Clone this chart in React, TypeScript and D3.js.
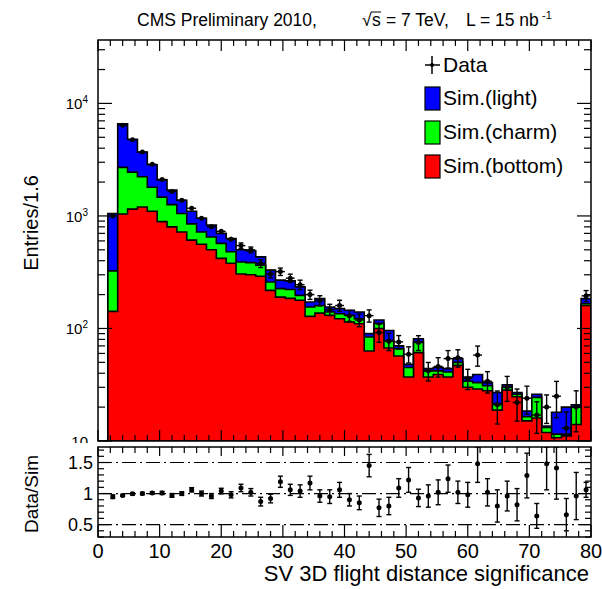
import * as d3 from 'd3';
import React, { useRef, useEffect } from 'react';

const WIDTH = 602;
const HEIGHT = 589;
const binWidth = 1.6;

// lower edges of the 50 bins (0 .. 78.4)
const binLow = d3.range(0, 50).map(i => i * binWidth);

// simulated contributions per bin (stacked: bottom, then charm, then light)
const simBottom = [0, 142, 1040, 1150, 1200, 1100, 890, 800, 720, 610, 560, 500, 420, 380, 305, 300, 291, 218, 190, 185,
  178, 128, 137, 131, 122, 114, 110, 63, 100, 67, 57, 37, 61, 37, 39, 37, 47, 30, 29, 28,
  18.8, 28.3, 24.7, 15.1, 16, 11.9, 10.7, 11.1, 14, 160];
const simCharm = [0, 183, 1660, 1300, 1030, 700, 580, 460, 330, 240, 160, 150, 150, 100, 85, 85, 74, 41, 36, 37,
  19, 27, 23, 9, 13, 17, 12, 21, 11, 11, 9, 8, 15, 5, 3, 4, 3, 4, 4, 3,
  2.7, 1.7, 1.3, 1.3, 8.4, 1.3, 0.8, 0.4, 6, 6];
const simLight = [0, 725, 3900, 2350, 1470, 1050, 620, 440, 330, 250, 235, 180, 130, 150, 110, 105, 68, 71, 43, 43,
  37, 17, 24, 15, 15, 14, 18, 6, 8, 18, 4, 3, 5, 2, 3, 3, 4, 3, 6, 2,
  5.5, 1.6, 1, 2.1, 1.6, 0.4, 6.5, 8.5, 1, 18];

// data entries per bin
const dataCounts = [0, 1000, 6400, 4750, 3700, 2880, 2110, 1650, 1380, 1170, 955, 800, 730, 620, 545, 500, 378, 305, 320, 280,
  245, 200, 177, 147, 160, 130, 119, 130, 92, 77, 76, 59, 75, 42, 46, 54, 55, 36, 58, 34,
  21, 30, 22, 24, 17, 20, 25, 13, 20, 195];

// Data/Sim ratio and its error
const ratioVals = [0, 0.95, 0.97, 0.995, 1.0, 1.01, 1.01, 0.97, 1.0, 1.06, 1.0, 0.96, 1.04, 0.98, 1.09, 1.02, 0.87, 0.92, 1.19, 1.06,
  1.04, 1.17, 0.96, 0.95, 1.06, 0.9, 0.85, 1.45, 0.77, 0.8, 1.09, 1.22, 0.93, 0.96, 1.02, 1.24, 1.02, 0.98, 1.48, 1.02,
  0.8, 0.96, 0.82, 1.29, 0.64, 1.48, 1.41, 0.66, 0.96, 1.06];
const ratioErrs = [0, 0.03, 0.015, 0.02, 0.02, 0.02, 0.025, 0.03, 0.03, 0.035, 0.04, 0.04, 0.045, 0.05, 0.06, 0.06, 0.07, 0.07, 0.09, 0.09,
  0.1, 0.11, 0.1, 0.11, 0.12, 0.1, 0.11, 0.18, 0.14, 0.14, 0.15, 0.2, 0.14, 0.18, 0.2, 0.22, 0.18, 0.2, 0.3, 0.22,
  0.26, 0.24, 0.26, 0.36, 0.2, 0.42, 0.5, 0.26, 0.38, 0.12];

const xTickValues = [0, 10, 20, 30, 40, 50, 60, 70, 80];
const yDecades = [1, 2, 3, 4];
const ratioTickValues = [0.5, 1, 1.5];
const ratioTickLabels = ['0.5', '1', '1.5'];

const legendItems = [
  { key: 'light', label: 'Sim.(light)', color: '#0000ff' },
  { key: 'charm', label: 'Sim.(charm)', color: '#00ff00' },
  { key: 'bottom', label: 'Sim.(bottom)', color: '#ff0000' },
];

const FONT = 'Liberation Sans, Arial, Helvetica, sans-serif';

function App() {
  const ref = useRef<SVGSVGElement>(null);

  useEffect(() => {
    const svg = d3.select(ref.current);
    svg.selectAll('*').remove();

    const left = 98, right = 591;
    const mainTop = 40, mainBottom = 441;
    const ratioTop = 447, ratioBottom = 537;

    const x = d3.scaleLinear().domain([0, 80]).range([left, right]);
    const y = d3.scaleLog().domain([10, 36600]).range([mainBottom, mainTop]).clamp(true);
    const yr = d3.scaleLinear().domain([0.3, 1.75]).range([ratioBottom, ratioTop]).clamp(true);

    svg.append('rect').attr('width', WIDTH).attr('height', HEIGHT).attr('fill', 'white');

    const defs = svg.append('defs');
    defs.append('clipPath').attr('id', 'mainClip').append('rect')
      .attr('x', left).attr('y', mainTop).attr('width', right - left).attr('height', mainBottom - mainTop);
    defs.append('clipPath').attr('id', 'ratioClip').append('rect')
      .attr('x', left).attr('y', ratioTop).attr('width', right - left).attr('height', ratioBottom - ratioTop);

    // ---- stacked histogram
    const rows = binLow.map((lo, i) => ({ lo, bottom: simBottom[i], charm: simCharm[i], light: simLight[i] }));
    const stacked = d3.stack<any>().keys(['bottom', 'charm', 'light'])(rows);
    const colorOf: Record<string, string> = { bottom: '#ff0000', charm: '#00ff00', light: '#0000ff' };

    const line = d3.line();
    const stepPoints = (series: any) => {
      const pts: [number, number][] = [[x(0), mainBottom]];
      series.forEach((d: any, i: number) => {
        const top = d[1];
        const yy = top > 0 ? y(top) : mainBottom;
        pts.push([x(binLow[i]), yy], [x(binLow[i] + binWidth), yy]);
      });
      pts.push([x(80), mainBottom]);
      return pts;
    };

    const gMain = svg.append('g').attr('clip-path', 'url(#mainClip)');
    stacked.slice().reverse().forEach(s => {
      gMain.append('path')
        .attr('d', line(stepPoints(s)) + 'Z')
        .attr('fill', colorOf[s.key])
        .attr('stroke', '#000')
        .attr('stroke-width', 1.6)
        .attr('stroke-linejoin', 'miter');
    });

    // data points
    dataCounts.forEach((n, i) => {
      if (!n) return;
      const lo = binLow[i];
      const cx = x(lo + binWidth / 2);
      const err = n * ratioErrs[i] / ratioVals[i];
      const y1 = y(n + err), y2 = y(Math.max(n - err, 1));
      const g = gMain.append('g').attr('stroke', '#000').attr('stroke-width', 1.4);
      g.append('line').attr('x1', x(lo) + 0.5).attr('x2', x(lo + binWidth) - 0.5).attr('y1', y(n)).attr('y2', y(n));
      g.append('line').attr('x1', cx).attr('x2', cx).attr('y1', y1).attr('y2', y2);
      if (y2 - y1 > 5) {
        g.append('line').attr('x1', cx - 2.5).attr('x2', cx + 2.5).attr('y1', y1).attr('y2', y1);
        g.append('line').attr('x1', cx - 2.5).attr('x2', cx + 2.5).attr('y1', y2).attr('y2', y2);
      }
      gMain.append('circle').attr('cx', cx).attr('cy', y(n)).attr('r', 2.5).attr('fill', '#000');
    });

    // ---- main frame and ticks
    const axes = svg.append('g').attr('stroke', '#000').attr('stroke-width', 1.2);
    axes.append('rect').attr('x', left).attr('y', mainTop).attr('width', right - left).attr('height', mainBottom - mainTop)
      .attr('fill', 'none').attr('stroke-width', 1.5);

    const xMinor = d3.range(0, 81, 2);
    xMinor.forEach(v => {
      const major = v % 10 === 0;
      const len = major ? 11 : 6;
      axes.append('line').attr('x1', x(v)).attr('x2', x(v)).attr('y1', mainBottom).attr('y2', mainBottom - len);
      axes.append('line').attr('x1', x(v)).attr('x2', x(v)).attr('y1', mainTop).attr('y2', mainTop + len);
    });

    const logTicks: { v: number; major: boolean }[] = [];
    [10, 100, 1000, 10000].forEach(dec => {
      for (let k = 1; k <= 9; k++) {
        const v = dec * k;
        if (v <= 36600) logTicks.push({ v, major: k === 1 });
      }
    });
    logTicks.forEach(t => {
      const len = t.major ? 14 : 7;
      axes.append('line').attr('x1', left).attr('x2', left + len).attr('y1', y(t.v)).attr('y2', y(t.v));
      axes.append('line').attr('x1', right).attr('x2', right - len).attr('y1', y(t.v)).attr('y2', y(t.v));
    });

    // y labels of main panel
    yDecades.forEach(p => {
      const t = svg.append('text')
        .attr('x', 88).attr('y', y(Math.pow(10, p)) + 6)
        .attr('text-anchor', 'end')
        .attr('font-family', FONT).attr('font-size', 15).attr('fill', '#000');
      t.append('tspan').text('10');
      if (p > 1) t.append('tspan').attr('dy', -6).attr('font-size', 10).text(String(p));
      else t.append('tspan').attr('font-size', 10).text(' ');
    });

    svg.append('text')
      .attr('transform', `translate(38, 223) rotate(-90)`)
      .attr('text-anchor', 'middle')
      .attr('font-family', FONT).attr('font-size', 20).attr('fill', '#000')
      .text('Entries/1.6');

    // ---- ratio panel (covers the tail of the lowest y label)
    svg.append('rect').attr('x', 0).attr('y', 443).attr('width', WIDTH).attr('height', HEIGHT - 443).attr('fill', 'white');

    const ratioAxes = svg.append('g').attr('stroke', '#000').attr('stroke-width', 1.2);
    ratioAxes.append('rect').attr('x', left).attr('y', ratioTop).attr('width', right - left).attr('height', ratioBottom - ratioTop)
      .attr('fill', 'none').attr('stroke-width', 1.5);

    xMinor.forEach(v => {
      const major = v % 10 === 0;
      const lenB = major ? 12 : 6;
      const lenT = major ? 9 : 6;
      ratioAxes.append('line').attr('x1', x(v)).attr('x2', x(v)).attr('y1', ratioBottom).attr('y2', ratioBottom - lenB);
      ratioAxes.append('line').attr('x1', x(v)).attr('x2', x(v)).attr('y1', ratioTop).attr('y2', ratioTop + lenT);
    });

    d3.range(3, 18).map(k => k / 10).forEach(v => {
      const major = Math.abs(v * 2 - Math.round(v * 2)) < 1e-6;
      const len = major ? 12 : 6;
      ratioAxes.append('line').attr('x1', left).attr('x2', left + len).attr('y1', yr(v)).attr('y2', yr(v));
      ratioAxes.append('line').attr('x1', right).attr('x2', right - len).attr('y1', yr(v)).attr('y2', yr(v));
    });

    ratioTickValues.forEach(v => {
      ratioAxes.append('line')
        .attr('x1', left).attr('x2', right).attr('y1', yr(v)).attr('y2', yr(v))
        .attr('stroke-width', 1.2)
        .attr('stroke-dasharray', '14 4 2 4');
    });

    const gRatio = svg.append('g').attr('clip-path', 'url(#ratioClip)');
    ratioVals.forEach((r, i) => {
      if (!r) return;
      const cx = x(binLow[i] + binWidth / 2);
      const e = ratioErrs[i];
      const y1 = yr(r + e), y2 = yr(r - e);
      const g = gRatio.append('g').attr('stroke', '#000').attr('stroke-width', 1.4);
      g.append('line').attr('x1', cx).attr('x2', cx).attr('y1', y1).attr('y2', y2);
      g.append('line').attr('x1', cx - 2.5).attr('x2', cx + 2.5).attr('y1', y1).attr('y2', y1);
      g.append('line').attr('x1', cx - 2.5).attr('x2', cx + 2.5).attr('y1', y2).attr('y2', y2);
      gRatio.append('circle').attr('cx', cx).attr('cy', yr(r)).attr('r', 2.5).attr('fill', '#000');
    });

    ratioTickValues.forEach((v, i) => {
      svg.append('text')
        .attr('x', 93).attr('y', yr(v) + 6)
        .attr('text-anchor', 'end')
        .attr('font-family', FONT).attr('font-size', 18).attr('fill', '#000')
        .text(ratioTickLabels[i]);
    });

    svg.append('text')
      .attr('transform', `translate(38, 494) rotate(-90)`)
      .attr('text-anchor', 'middle')
      .attr('font-family', FONT).attr('font-size', 19).attr('fill', '#000')
      .text('Data/Sim');

    xTickValues.forEach(v => {
      svg.append('text')
        .attr('x', x(v)).attr('y', 558)
        .attr('text-anchor', 'middle')
        .attr('font-family', FONT).attr('font-size', 20).attr('fill', '#000')
        .text(String(v));
    });

    svg.append('text')
      .attr('x', 589).attr('y', 581)
      .attr('text-anchor', 'end')
      .attr('font-family', FONT).attr('font-size', 22).attr('fill', '#000')
      .text('SV 3D flight distance significance');

    // ---- title
    const title = svg.append('g').attr('font-family', FONT).attr('font-size', 17.5).attr('fill', '#000');
    title.append('text').attr('x', 137).attr('y', 26).text('CMS Preliminary 2010,');
    title.append('text').attr('x', 362).attr('y', 26).text('\u221A');
    title.append('text').attr('x', 372).attr('y', 26).text('s');
    title.append('line').attr('x1', 371).attr('x2', 381).attr('y1', 12).attr('y2', 12)
      .attr('stroke', '#000').attr('stroke-width', 1);
    title.append('text').attr('x', 386).attr('y', 26).text('= 7 TeV,');
    title.append('text').attr('x', 466).attr('y', 26).text('L = 15 nb');
    title.append('text').attr('x', 542).attr('y', 19).attr('font-size', 11).text('-1');

    // ---- legend
    const legend = svg.append('g').attr('font-family', FONT).attr('font-size', 21).attr('fill', '#000');
    legend.append('line').attr('x1', 425).attr('x2', 440).attr('y1', 65).attr('y2', 65).attr('stroke', '#000').attr('stroke-width', 1.5);
    legend.append('line').attr('x1', 432).attr('x2', 432).attr('y1', 56).attr('y2', 74).attr('stroke', '#000').attr('stroke-width', 1.5);
    legend.append('circle').attr('cx', 432).attr('cy', 65).attr('r', 2).attr('fill', '#000');
    legend.append('text').attr('x', 443).attr('y', 72).text('Data');
    legendItems.forEach((it, i) => {
      const cy = 98 + i * 34;
      legend.append('rect').attr('x', 425).attr('y', cy - 11).attr('width', 15).attr('height', 23)
        .attr('fill', it.color).attr('stroke', '#000').attr('stroke-width', 1.2);
      legend.append('text').attr('x', 443).attr('y', cy + 7).text(it.label);
    });
  }, []);

  return (
    <div style={{ position: 'absolute', left: 0, top: 0 }}>
      <svg ref={ref} width={WIDTH} height={HEIGHT} style={{ display: 'block' }} />
    </div>
  );
}

export default App;
